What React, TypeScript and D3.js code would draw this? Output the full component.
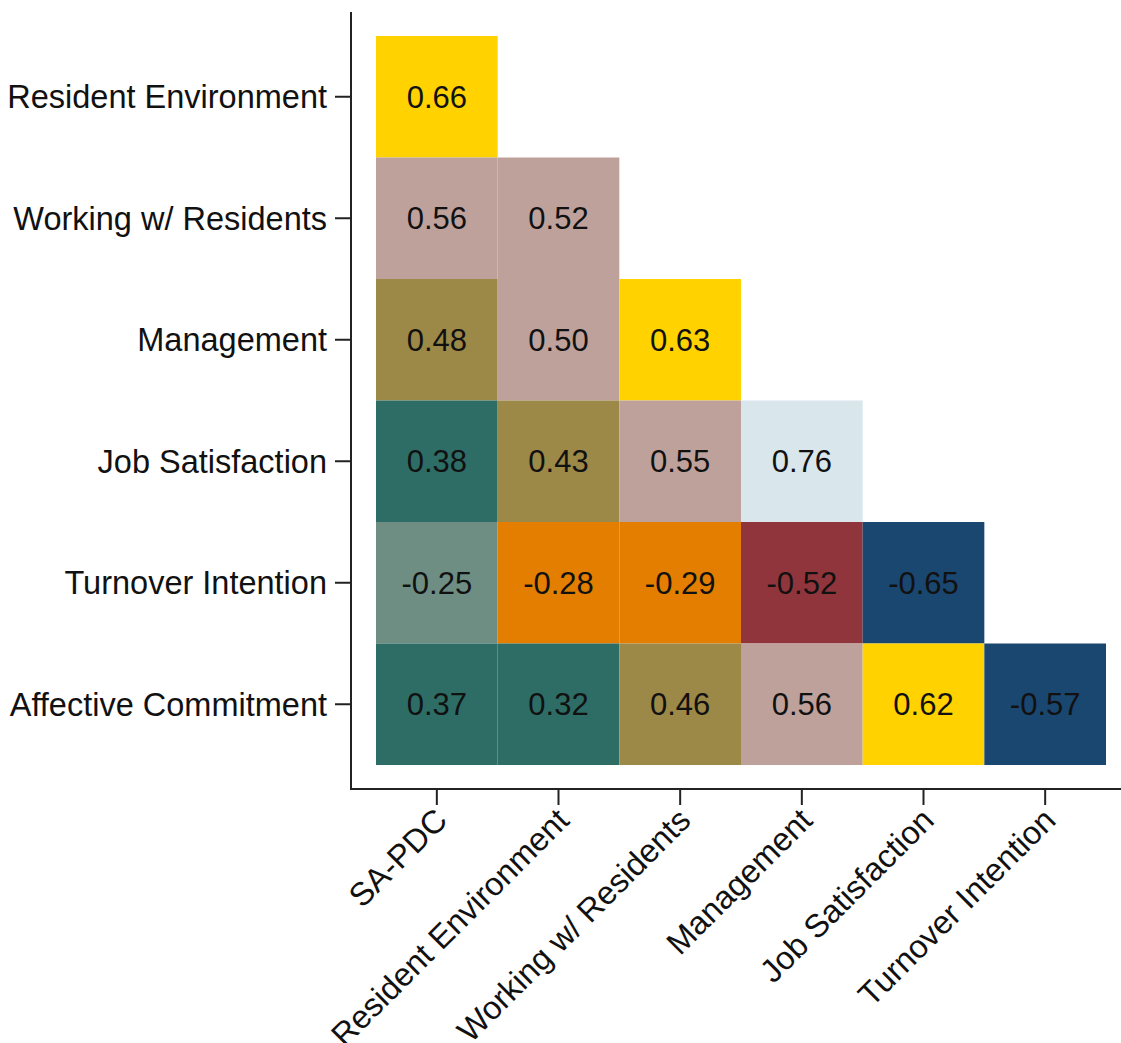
import React from 'react';
import * as d3 from 'd3';

// Correlation matrix (lower triangle)
const rowLabels = [
  'Resident Environment',
  'Working w/ Residents',
  'Management',
  'Job Satisfaction',
  'Turnover Intention',
  'Affective Commitment',
];
const colLabels = [
  'SA-PDC',
  'Resident Environment',
  'Working w/ Residents',
  'Management',
  'Job Satisfaction',
  'Turnover Intention',
];
const corrRows: number[][] = [
  [0.66],
  [0.56, 0.52],
  [0.48, 0.5, 0.63],
  [0.38, 0.43, 0.55, 0.76],
  [-0.25, -0.28, -0.29, -0.52, -0.65],
  [0.37, 0.32, 0.46, 0.56, 0.62, -0.57],
];
// Stata s2color palette, used as binned ramp
const palette = [
  '#1a476f', '#90353b', '#55752f', '#e37e00', '#6e8e84',
  '#c10534', '#938dd2', '#cac27e', '#a0522d', '#7b92a8',
  '#2d6d66', '#9c8847', '#bfa19c', '#ffd200', '#d9e6eb',
];

const width = 1121;
const height = 1043;
const font = 'Arial, "Liberation Sans", sans-serif';

export default function App() {
  const x = d3.scaleBand<string>().domain(colLabels).range([376, 1106]);
  const y = d3.scaleBand<string>().domain(rowLabels).range([36, 765]);
  const color = d3.scaleQuantize<string>().domain([-0.652, 0.764]).range(palette);

  const cells = corrRows.flatMap((vals, i) =>
    vals.map((v, j) => ({ row: rowLabels[i], col: colLabels[j], v }))
  );

  const axisLeft = 351;
  const axisBottom = 789;
  const tick = 16;
  const labelSize = 32.5;

  return (
    <svg width={width} height={height} style={{ position: 'absolute', left: 0, top: 0, background: '#fff' }}
      fontFamily={font}>
      {cells.map((c, k) => (
        <g key={k}>
          <rect x={x(c.col)} y={y(c.row)} width={x.bandwidth()} height={y.bandwidth()}
            fill={color(c.v)} />
          <text x={(x(c.col) ?? 0) + x.bandwidth() / 2} y={(y(c.row) ?? 0) + y.bandwidth() / 2}
            dy="0.36em" textAnchor="middle" fontSize={31} fill="#111">
            {c.v.toFixed(2)}
          </text>
        </g>
      ))}

      {/* axes */}
      <line x1={axisLeft} x2={axisLeft} y1={12} y2={axisBottom + 1} stroke="#222" strokeWidth={2} />
      <line x1={axisLeft - 1} x2={width} y1={axisBottom} y2={axisBottom} stroke="#222" strokeWidth={2} />

      {rowLabels.map(r => {
        const cy = (y(r) ?? 0) + y.bandwidth() / 2;
        return (
          <g key={r}>
            <line x1={axisLeft - tick} x2={axisLeft} y1={cy} y2={cy} stroke="#222" strokeWidth={2} />
            <text x={axisLeft - tick - 8} y={cy} dy="0.36em" textAnchor="end" fontSize={labelSize} fill="#111">{r}</text>
          </g>
        );
      })}

      {colLabels.map(c => {
        const cx = (x(c) ?? 0) + x.bandwidth() / 2;
        return (
          <g key={c}>
            <line x1={cx} x2={cx} y1={axisBottom} y2={axisBottom + tick} stroke="#222" strokeWidth={2} />
            <text transform={`translate(${cx + 4},${axisBottom + tick + 9}) rotate(-45)`}
              dy="0.36em" textAnchor="end" fontSize={labelSize} fill="#111">{c}</text>
          </g>
        );
      })}
    </svg>
  );
}
